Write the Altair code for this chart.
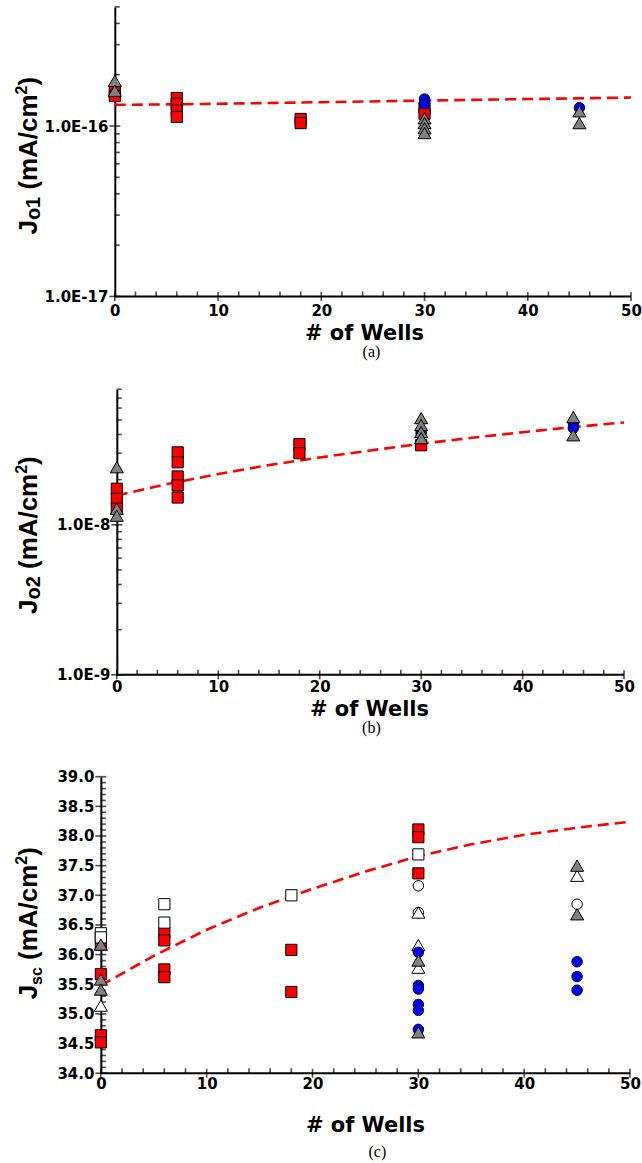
import altair as alt
import pandas as pd

# ---------------- data ----------------
# panel (a): Jo1 (mA/cm2) vs # of wells
A_RED_X = [0, 0, 6, 6, 6, 6, 18, 18, 30, 30]
A_RED_Y = [1.58e-16, 1.50e-16, 1.46e-16, 1.35e-16, 1.23e-16, 1.13e-16, 1.10e-16, 1.04e-16, 1.28e-16, 1.18e-16]
A_BLUE_X = [30, 30, 45]
A_BLUE_Y = [1.44e-16, 1.35e-16, 1.28e-16]
A_GRAY_X = [0, 0, 30, 30, 30, 30, 45, 45]
A_GRAY_Y = [1.84e-16, 1.61e-16, 1.11e-16, 1.04e-16, 0.97e-16, 0.91e-16, 1.22e-16, 1.04e-16]
A_FIT_X = [0, 10, 20, 30, 40, 50]
A_FIT_Y = [1.33e-16, 1.35e-16, 1.38e-16, 1.41e-16, 1.44e-16, 1.47e-16]

# panel (b): Jo2 (mA/cm2)
B_RED_X = [0, 0, 0, 6, 6, 6, 6, 6, 18, 18, 30]
B_RED_Y = [1.74e-8, 1.49e-8, 1.28e-8, 3.04e-8, 2.61e-8, 2.10e-8, 1.83e-8, 1.52e-8, 3.45e-8, 3.00e-8, 3.39e-8]
B_BLUE_X = [30, 45, 45]
B_BLUE_Y = [4.09e-8, 4.76e-8, 4.41e-8]
B_GRAY_X = [0, 0, 0, 30, 30, 30, 30, 45, 45]
B_GRAY_Y = [2.42e-8, 1.28e-8, 1.15e-8, 5.14e-8, 4.62e-8, 4.15e-8, 3.78e-8, 5.23e-8, 3.95e-8]
B_FIT_X = [0, 5, 10, 15, 20, 25, 30, 35, 40, 45, 50]
B_FIT_Y = [1.57e-8, 1.87e-8, 2.18e-8, 2.50e-8, 2.81e-8, 3.13e-8, 3.47e-8, 3.80e-8, 4.14e-8, 4.48e-8, 4.81e-8]

# panel (c): Jsc (mA/cm2)
C_RED_X = [0, 0, 0, 0, 6, 6, 6, 6, 18, 18, 30, 30, 30]
C_RED_Y = [36.17, 35.67, 34.64, 34.52, 36.37, 36.24, 35.75, 35.62, 36.08, 35.37, 38.11, 37.98, 37.37]
C_WSQ_X = [0, 0, 6, 6, 18, 30]
C_WSQ_Y = [36.36, 36.29, 36.85, 36.54, 37.00, 37.69]
C_WCI_X = [30, 30, 45]
C_WCI_Y = [37.16, 36.71, 36.85]
C_WTR_X = [0, 30, 30, 30, 45]
C_WTR_Y = [35.14, 36.71, 36.16, 35.78, 37.33]
C_BLUE_X = [30, 30, 30, 30, 30, 30, 45, 45, 45]
C_BLUE_Y = [36.04, 35.48, 35.42, 35.16, 35.06, 34.74, 35.88, 35.63, 35.40]
C_GRAY_X = [0, 0, 0, 30, 30, 45, 45]
C_GRAY_Y = [36.17, 35.58, 35.41, 35.90, 34.69, 37.50, 36.68]
C_FIT_X = [0, 5, 10, 15, 20, 25, 30, 35, 40, 45, 50]
C_FIT_Y = [35.48, 35.98, 36.42, 36.79, 37.11, 37.40, 37.66, 37.86, 38.02, 38.14, 38.24]

# axis ticks / labels
X_MAJOR = [0, 10, 20, 30, 40, 50]
X_MINOR = [v for v in range(0, 51, 2) if v % 10 != 0]
A_Y_MAJOR = [1e-17, 1e-16]
A_Y_MINOR = [2e-17, 3e-17, 4e-17, 5e-17, 6e-17, 7e-17, 8e-17, 9e-17, 2e-16, 3e-16, 4e-16, 5e-16]
B_Y_MAJOR = [1e-9, 1e-8]
B_Y_MINOR = [2e-9, 3e-9, 4e-9, 5e-9, 6e-9, 7e-9, 8e-9, 9e-9, 2e-8, 3e-8, 4e-8, 5e-8, 6e-8, 7e-8, 8e-8]
C_Y_MAJOR = [34.0, 34.5, 35.0, 35.5, 36.0, 36.5, 37.0, 37.5, 38.0, 38.5, 39.0]
C_Y_MINOR = [round(34 + i * 0.1, 1) for i in range(51) if i % 5 != 0]

RED = "#FF0000"
BLUE = "#0000FF"
GRAY = "#808080"
WHITE = "#FFFFFF"
LABEL_FONT = "DejaVu Sans"
TITLE_FONT = "Liberation Sans"
SERIF = "Liberation Serif"

DUMMY = pd.DataFrame({"d": [0]})
# Arial-bold advance widths (em) for composing the rotated titles
ADV = {"J": .556, "o": .611, "1": .556, "2": .556, "s": .556, "c": .556, " ": .278,
       "(": .333, "m": .889, "A": .722, "/": .278, ")": .333}


def frame(xs, ys):
    return pd.DataFrame({"x": xs, "y": ys})


def build_panel(width, height, xdom, ytype, ydom, ymaj, ymin_, ylabel_kw, series, fit,
                yoffset, xlabel_pad, title_pieces, title_y, xtitle_pos, letter, letter_pos,
                top_ext, bottom_ext):
    xs = alt.Scale(domain=xdom, nice=False, zero=False)
    ys = alt.Scale(type=ytype, domain=ydom, nice=False, zero=False)
    y_lo = ydom[0]
    layers = []

    yaxis = alt.Axis(values=ymaj, ticks=False, domain=True, domainColor="black",
                     domainWidth=2, grid=False, title=None, labelFont=LABEL_FONT,
                     labelFontWeight="bold", labelFontSize=15, labelColor="black",
                     labelPadding=7, labelOverlap=False, offset=yoffset, **ylabel_kw)
    xaxis = alt.Axis(values=X_MAJOR, ticks=False, domain=False, grid=False, title=None,
                     labelFont=LABEL_FONT, labelFontWeight="bold", labelFontSize=15,
                     labelColor="black", labelPadding=xlabel_pad, labelFlush=False,
                     labelOverlap=False, format="d")

    # every layer carries the identical axis definition so they merge cleanly
    def X(f):
        return alt.X(f + ":Q", scale=xs, axis=xaxis)

    def Y(f):
        return alt.Y(f + ":Q", scale=ys, axis=yaxis)

    # fit curve
    layers.append(alt.Chart(fit).mark_line(color=RED, strokeWidth=2.6,
                                           strokeDash=[11, 6]).encode(x=X("x"), y=Y("y")))

    # x axis line from x=0 to x=50
    layers.append(alt.Chart(pd.DataFrame({"x": [0, 50], "y": [y_lo, y_lo]})).mark_line(
        color="black", strokeWidth=2).encode(x=X("x"), y=Y("y")))

    # tick marks drawn on the scales (major cross the axis, minor point inward)
    layers.append(alt.Chart(pd.DataFrame({"y": ymaj, "x": 0})).mark_tick(
        orient="horizontal", size=11, thickness=1.6, color="black").encode(
        y=Y("y"), x=X("x")))
    layers.append(alt.Chart(pd.DataFrame({"y": ymin_, "x": 0})).mark_tick(
        orient="horizontal", size=5, thickness=1.6, color="black", xOffset=2.5).encode(
        y=Y("y"), x=X("x")))
    layers.append(alt.Chart(pd.DataFrame({"x": X_MAJOR, "y": y_lo})).mark_tick(
        orient="vertical", size=9, thickness=1.6, color="black").encode(
        x=X("x"), y=Y("y")))
    layers.append(alt.Chart(pd.DataFrame({"x": X_MINOR, "y": y_lo})).mark_tick(
        orient="vertical", size=5, thickness=1.6, color="black", yOffset=-2.5).encode(
        x=X("x"), y=Y("y")))

    # data points
    for d, shape, fill, size in series:
        layers.append(alt.Chart(d).mark_point(
            shape=shape, filled=True, fill=fill, stroke="black", strokeWidth=1,
            size=size, opacity=1).encode(x=X("x"), y=Y("y")))

    # rotated y title composed of pieces (sub/superscripts)
    ypos = title_y
    xbase = -64
    for txt, fs, dx in title_pieces:
        if txt.startswith(" "):
            ypos -= ADV[" "] * fs
            txt = txt[1:]
        layers.append(alt.Chart(DUMMY).mark_text(
            text=txt, angle=270, align="left", baseline="alphabetic", font=TITLE_FONT,
            fontSize=fs, fontWeight="bold", color="black").encode(
            x=alt.value(xbase + dx), y=alt.value(ypos)))
        ypos -= sum(ADV[c] for c in txt) * fs

    # x title and panel letter
    layers.append(alt.Chart(DUMMY).mark_text(
        text="# of Wells", align="center", baseline="middle", font=LABEL_FONT,
        fontSize=21, fontWeight="bold", color="black").encode(
        x=alt.value(xtitle_pos[0]), y=alt.value(xtitle_pos[1])))
    layers.append(alt.Chart(DUMMY).mark_text(
        text=letter, align="center", baseline="middle", font=SERIF,
        fontSize=16, color="black").encode(
        x=alt.value(letter_pos[0]), y=alt.value(letter_pos[1])))

    # invisible extent markers fixing the panel bounds
    for px, py in [(-100, 10), (0, top_ext), (0, bottom_ext)]:
        layers.append(alt.Chart(DUMMY).mark_point(opacity=0, size=1, filled=True).encode(
            x=alt.value(px), y=alt.value(py)))

    return alt.layer(*layers).properties(width=width, height=height)


log_kw = dict(labelExpr="'1.0E' + round(log(datum.value)/LN10)")

pa = build_panel(
    531, 290, [-14 / 10.34, 50], "log", [1e-17, 5e-16], A_Y_MAJOR, A_Y_MINOR, log_kw,
    [(frame(A_RED_X, A_RED_Y), "square", RED, 125),
     (frame(A_BLUE_X, A_BLUE_Y), "circle", BLUE, 110),
     (frame(A_GRAY_X, A_GRAY_Y), "triangle-up", GRAY, 170)],
    frame(A_FIT_X, A_FIT_Y), -14, 7,
    [("J", 26, 0), ("o1", 20, 3), (" (mA/cm", 26, 0), ("2", 16, -10), (")", 26, 0)],
    228, (264, 328), "(a)", (271, 346), -5, 380)

pb = build_panel(
    524, 286, [-16 / 10.16, 50], "log", [1e-9, 8e-8], B_Y_MAJOR, B_Y_MINOR, log_kw,
    [(frame(B_RED_X, B_RED_Y), "square", RED, 125),
     (frame(B_BLUE_X, B_BLUE_Y), "circle", BLUE, 110),
     (frame(B_GRAY_X, B_GRAY_Y), "triangle-up", GRAY, 170)],
    frame(B_FIT_X, B_FIT_Y), -16, 5,
    [("J", 26, 0), ("o2", 20, 3), (" (mA/cm", 26, 0), ("2", 16, -10), (")", 26, 0)],
    225, (269, 321), "(b)", (271, 339), -1, 377)

pc = build_panel(
    530, 297, [0, 50], "linear", [34, 39], C_Y_MAJOR, C_Y_MINOR, dict(format=".1f"),
    [(frame(C_RED_X, C_RED_Y), "square", RED, 125),
     (frame(C_WSQ_X, C_WSQ_Y), "square", WHITE, 125),
     (frame(C_WCI_X, C_WCI_Y), "circle", WHITE, 110),
     (frame(C_WTR_X, C_WTR_Y), "triangle-up", WHITE, 170),
     (frame(C_BLUE_X, C_BLUE_Y), "circle", BLUE, 110),
     (frame(C_GRAY_X, C_GRAY_Y), "triangle-up", GRAY, 170)],
    frame(C_FIT_X, C_FIT_Y), 0, 3,
    [("J", 26, 0), ("sc", 16, 5), (" (mA/cm", 26, 0), ("2", 16, -10), (")", 26, 0)],
    223, (265, 350), "(c)", (277, 376), -9, 380)

chart = alt.vconcat(pa, pb, pc, spacing=0).properties(
    padding={"left": 0, "top": 0, "right": 0, "bottom": 0},
    background="white",
).configure_view(stroke="transparent")

chart.save("out.html", embed_options={"renderer": "svg", "actions": False})
